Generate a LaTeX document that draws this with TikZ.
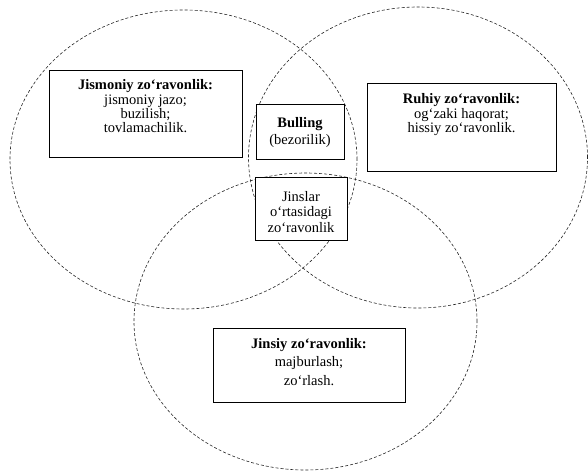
\documentclass[tikz,border=0pt]{standalone}
\usepackage{fontspec}
\setmainfont{Liberation Serif}
\tikzset{
  venn/.style={draw=black!85, line width=0.6pt, dash pattern=on 3pt off 2pt},
  boxframe/.style={draw=black, line width=0.8pt, fill=white, inner sep=0pt},
  boxtext/.style={align=center, inner sep=0pt, font=\fontsize{14.5}{14.3}\selectfont},
}
\begin{document}
\begin{tikzpicture}[x=1pt, y=-1pt]
\useasboundingbox (0,0) rectangle (588,471);
% circles
\draw[venn] (183.5,159.5) ellipse [x radius=173.5pt, y radius=149.5pt];
\draw[venn] (418,157.5) ellipse [x radius=169.5pt, y radius=150.5pt];
\draw[venn] (305.5,321.5) ellipse [x radius=171.5pt, y radius=148.5pt];
% boxes
\node[boxframe, minimum width=193pt, minimum height=87pt] (jbox) at (145.5,113.5) {};
\node[boxtext] (jtext) at (145.5,106.5) {\textbf{Jismoniy zo‘ravonlik:}\\jismoniy jazo;\\buzilish;\\tovlamachilik.};
\node[boxframe, minimum width=189pt, minimum height=88pt] (rbox) at (461.5,127) {};
\node[boxtext, font=\fontsize{14.5}{14.5}\selectfont] (rtext) at (461.5,115) {\textbf{Ruhiy zo‘ravonlik:}\\og‘zaki haqorat;\\hissiy zo‘ravonlik.};
\node[boxframe, minimum width=88pt, minimum height=55pt] (bbox) at (300,131.5) {};
\node[boxtext, font=\fontsize{14.5}{17}\selectfont] (btext) at (300,133) {\textbf{Bulling}\\(bezorilik)};
\node[boxframe, minimum width=92pt, minimum height=63pt] (gbox) at (301,208.5) {};
\node[boxtext, font=\fontsize{14.5}{15.5}\selectfont] (gtext) at (301,212) {Jinslar\\o‘rtasidagi\\zo‘ravonlik};
\node[boxframe, minimum width=192pt, minimum height=74pt] (sbox) at (309,365) {};
\node[boxtext, font=\fontsize{14.5}{18.5}\selectfont] (stext) at (309,362) {\textbf{Jinsiy zo‘ravonlik:}\\majburlash;\\zo‘rlash.};
\end{tikzpicture}
\end{document}
